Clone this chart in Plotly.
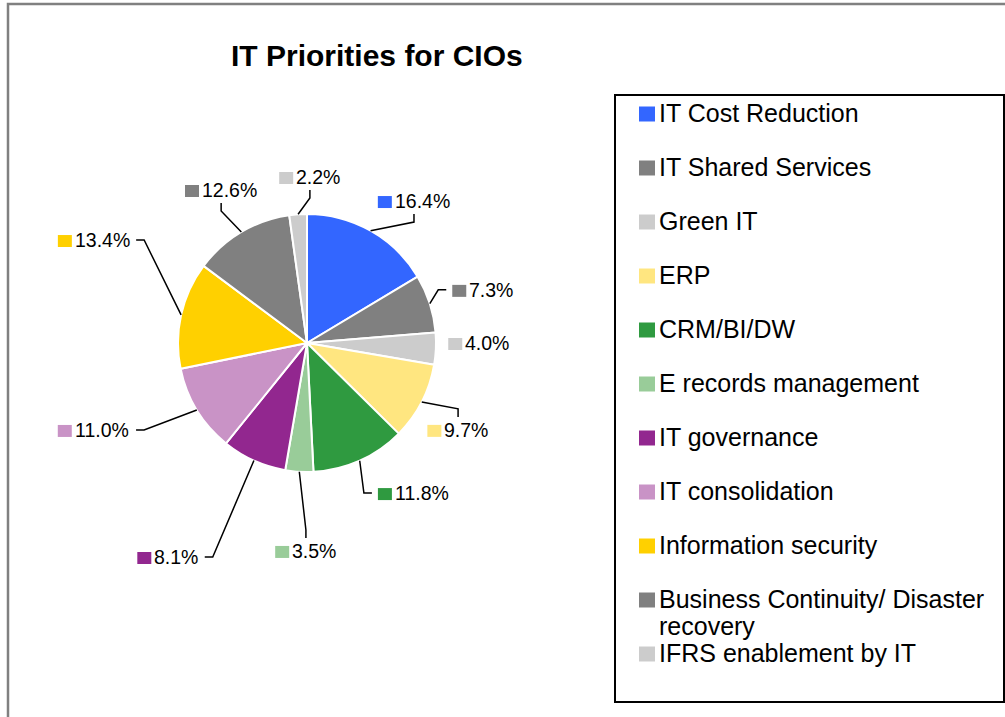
import math
import plotly.graph_objects as go

# ---- data -------------------------------------------------------------
categories = [
    "IT Cost Reduction",
    "IT Shared Services",
    "Green IT",
    "ERP",
    "CRM/BI/DW",
    "E records management",
    "IT governance",
    "IT consolidation",
    "Information security",
    "Business Continuity/ Disaster recovery",
    "IFRS enablement by IT",
]
shares = [16.4, 7.3, 4.0, 9.7, 11.8, 3.5, 8.1, 11.0, 13.4, 12.6, 2.2]
colors = [
    "#3366FF", "#808080", "#CCCCCC", "#FFE680", "#2F9A40", "#99CC99",
    "#92278F", "#C993C6", "#FFD000", "#808080", "#CCCCCC",
]
# legend text, with the manual line break of the long entry
legend_text = [
    "IT Cost Reduction", "IT Shared Services", "Green IT", "ERP", "CRM/BI/DW",
    "E records management", "IT governance", "IT consolidation",
    "Information security", "Business Continuity/ Disaster<br>recovery",
    "IFRS enablement by IT",
]

# ---- layout constants (pixels) -------------------------------------
W, H = 1005, 717
CX, CY, R = 307, 343, 129          # pie centre and radius
FONT = "Liberation Sans, Arial, sans-serif"
LABEL_SIZE = 19.5
LEGEND_SIZE = 25

# data-label placement: polar (degrees clockwise from 12 o'clock, distance
# in pie radii) and which side of the label the leader line meets
label_angle = [37.0, 73.2, 90.0, 119.9, 144.5, 180.3, 213.0, 247.8, 295.8, 330.7, 1.0]
label_dist = [1.378, 1.425, 1.333, 1.351, 1.429, 1.612, 1.978, 1.784, 1.834, 1.360, 1.287]
label_side = ["bottom", "left", None, "top", "left", "top", "right", "right", "right", "bottom", "bottom"]


def fx(px):
    return px / W


def fy(py):
    return 1 - py / H


# Arial / Liberation Sans advance widths (em) for the label characters
CHAR_W = {c: 0.556 for c in "0123456789"}
CHAR_W.update({".": 0.278, "%": 0.889})


def text_width(s, size):
    return sum(CHAR_W.get(c, 0.556) for c in s) * size


fig = go.Figure()
fig.add_trace(go.Pie(
    labels=categories,
    values=shares,
    sort=False,
    direction="clockwise",
    rotation=0,
    marker=dict(colors=colors, line=dict(color="white", width=2)),
    textinfo="none",
    hovertemplate="%{label}: %{value:.1f}%<extra></extra>",
    showlegend=False,
    domain=dict(x=[fx(CX - R), fx(CX + R)], y=[fy(CY + R), fy(CY - R)]),
))

shapes = []
annotations = []

# outer chart frame (runs off the right and bottom edge)
shapes.append(dict(type="rect", xref="paper", yref="paper",
                   x0=fx(8), x1=fx(1012), y0=fy(4), y1=fy(725),
                   line=dict(color="#808080", width=2.5), layer="above"))

# title
annotations.append(dict(text="<b>IT Priorities for CIOs</b>", x=fx(377), y=fy(56),
                        xref="paper", yref="paper", xanchor="center", yanchor="middle",
                        showarrow=False, font=dict(family=FONT, size=30, color="black")))

# data labels with colour keys and leader lines
total = sum(shares)
cum = 0.0
SQ_W, SQ_H, SQ_GAP = 14, 12, 3
GAP, STUB, HALF_H = 6, 8, 7
for i, v in enumerate(shares):
    mid = (cum + v / 2) / total * 360.0
    cum += v
    text = f"{v:.1f}%"
    a = math.radians(label_angle[i])
    bx = CX + label_dist[i] * R * math.sin(a)
    by = CY - label_dist[i] * R * math.cos(a)
    box_w = SQ_W + SQ_GAP + text_width(text, LABEL_SIZE)
    left = bx - box_w / 2
    right = bx + box_w / 2

    shapes.append(dict(type="rect", xref="paper", yref="paper",
                       x0=fx(left), x1=fx(left + SQ_W),
                       y0=fy(by + 1 - SQ_H / 2), y1=fy(by + 1 + SQ_H / 2),
                       fillcolor=colors[i], line=dict(width=0)))
    annotations.append(dict(text=text, x=fx(left + SQ_W + SQ_GAP), y=fy(by),
                            xref="paper", yref="paper", xanchor="left", yanchor="middle",
                            showarrow=False, borderpad=0, borderwidth=0,
                            font=dict(family=FONT, size=LABEL_SIZE, color="black")))

    side = label_side[i]
    if side is None:
        continue
    m = math.radians(mid)
    px, py = CX + R * math.sin(m), CY - R * math.cos(m)
    if side == "bottom":
        ax, ay = bx, by + HALF_H + GAP
        ex, ey = ax, ay + STUB
    elif side == "top":
        ax, ay = bx, by - HALF_H - GAP
        ex, ey = ax, ay - STUB
    elif side == "left":
        ax, ay = left - GAP, by
        ex, ey = ax - STUB, ay
    else:
        ax, ay = right + GAP, by
        ex, ey = ax + STUB, ay
    path = f"M {fx(px)} {fy(py)} L {fx(ex)} {fy(ey)} L {fx(ax)} {fy(ay)}"
    shapes.append(dict(type="path", xref="paper", yref="paper", path=path,
                       line=dict(color="black", width=1.5)))

# legend box
shapes.append(dict(type="rect", xref="paper", yref="paper",
                   x0=fx(615), x1=fx(1004), y0=fy(95), y1=fy(702),
                   line=dict(color="black", width=2)))
LEG_Y0, LEG_STEP, LINE_H = 113, 54, 27
for i, name in enumerate(legend_text):
    yc = LEG_Y0 + LEG_STEP * i
    shapes.append(dict(type="rect", xref="paper", yref="paper",
                       x0=fx(639), x1=fx(655), y0=fy(yc + 1 - 7.5), y1=fy(yc + 1 + 7.5),
                       fillcolor=colors[i], line=dict(width=0)))
    for k, line in enumerate(name.split("<br>")):
        annotations.append(dict(text=line, x=fx(659), y=fy(yc + k * LINE_H),
                                xref="paper", yref="paper", xanchor="left", yanchor="middle",
                                showarrow=False, borderpad=0, borderwidth=0,
                                font=dict(family=FONT, size=LEGEND_SIZE, color="black")))

fig.update_layout(
    width=W, height=H,
    margin=dict(l=0, r=0, t=0, b=0),
    paper_bgcolor="white",
    plot_bgcolor="white",
    shapes=shapes,
    annotations=annotations,
    showlegend=False,
)

fig.write_html("out.html")
